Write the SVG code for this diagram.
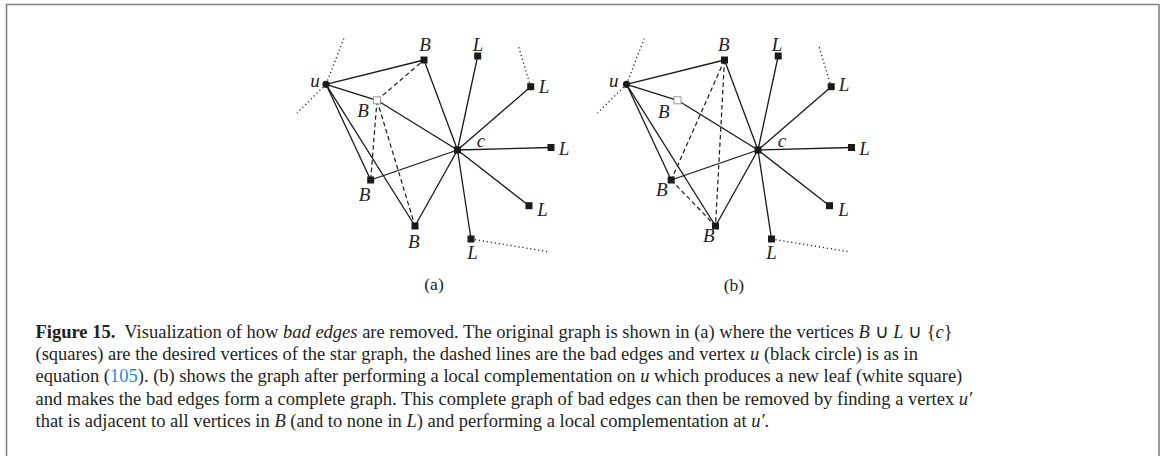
<svg xmlns="http://www.w3.org/2000/svg" width="1165" height="456" viewBox="0 0 1165 456">
<style>
.e{stroke:#1a1a1a;stroke-width:1.3;fill:none}
.d{stroke:#1a1a1a;stroke-width:1.2;fill:none;stroke-dasharray:4.5 3}
.o{stroke:#222;stroke-width:1.3;fill:none;stroke-dasharray:1.2 2.8}
.n{fill:#1a1a1a}
.w{fill:#fff;stroke:#999;stroke-width:1}
.m{font-family:"Liberation Serif",serif;font-style:italic;font-size:19px;fill:#222;text-anchor:middle}
.p{font-family:"Liberation Serif",serif;font-size:17.5px;fill:#222;text-anchor:middle}
.cap{font-family:"Liberation Serif",serif;font-size:18.5px;fill:#231f20}
.i{font-style:italic}
</style>
<rect width="1165" height="456" fill="#fff"/>
<path d="M6.5,456 V4.5 H1159 V456" fill="none" stroke="#808080" stroke-width="1.6"/>

<g id="connectors">
<g id="conn-a">
<line class="e" x1="326" y1="84.3" x2="424" y2="60"/>
<line class="e" x1="326" y1="84.3" x2="377" y2="100.3"/>
<line class="e" x1="326" y1="84.3" x2="370.7" y2="180"/>
<line class="e" x1="326" y1="84.3" x2="415" y2="226"/>
<line class="e" x1="377" y1="100.3" x2="457.5" y2="150"/>
<line class="e" x1="424" y1="60" x2="457.5" y2="150"/>
<line class="e" x1="370.7" y1="180" x2="457.5" y2="150"/>
<line class="e" x1="415" y1="226" x2="457.5" y2="150"/>
<line class="e" x1="457.5" y1="150" x2="477.7" y2="56"/>
<line class="e" x1="457.5" y1="150" x2="530.7" y2="86.7"/>
<line class="e" x1="457.5" y1="150" x2="551" y2="147.5"/>
<line class="e" x1="457.5" y1="150" x2="529" y2="205.7"/>
<line class="e" x1="457.5" y1="150" x2="471" y2="239"/>
<line class="d" x1="377" y1="100.3" x2="424" y2="60"/>
<line class="d" x1="377" y1="100.3" x2="370.7" y2="180"/>
<line class="d" x1="377" y1="100.3" x2="415" y2="226"/>
<line class="o" x1="326" y1="84.3" x2="344" y2="38"/>
<line class="o" x1="326" y1="84.3" x2="297" y2="113"/>
<line class="o" x1="530.7" y1="86.7" x2="518" y2="45"/>
<line class="o" x1="471" y1="239" x2="547" y2="251.5"/>
</g>
<g id="conn-b" transform="translate(300.5,0)">
<line class="e" x1="326" y1="84.3" x2="424" y2="60"/>
<line class="e" x1="326" y1="84.3" x2="377" y2="100.3"/>
<line class="e" x1="326" y1="84.3" x2="370.7" y2="180"/>
<line class="e" x1="326" y1="84.3" x2="415" y2="226"/>
<line class="e" x1="377" y1="100.3" x2="457.5" y2="150"/>
<line class="e" x1="424" y1="60" x2="457.5" y2="150"/>
<line class="e" x1="370.7" y1="180" x2="457.5" y2="150"/>
<line class="e" x1="415" y1="226" x2="457.5" y2="150"/>
<line class="e" x1="457.5" y1="150" x2="477.7" y2="56"/>
<line class="e" x1="457.5" y1="150" x2="530.7" y2="86.7"/>
<line class="e" x1="457.5" y1="150" x2="551" y2="147.5"/>
<line class="e" x1="457.5" y1="150" x2="529" y2="205.7"/>
<line class="e" x1="457.5" y1="150" x2="471" y2="239"/>
<line class="d" x1="424" y1="60" x2="370.7" y2="180"/>
<line class="d" x1="424" y1="60" x2="415" y2="226"/>
<line class="d" x1="370.7" y1="180" x2="415" y2="226"/>
<line class="o" x1="326" y1="84.3" x2="344" y2="38"/>
<line class="o" x1="326" y1="84.3" x2="297" y2="113"/>
<line class="o" x1="530.7" y1="86.7" x2="518" y2="45"/>
<line class="o" x1="471" y1="239" x2="547" y2="251.5"/>
</g>
</g>

<g id="graph-a">
<g id="a-u"><circle class="n" cx="326" cy="84.3" r="3.6"/><text class="m" x="315" y="87">u</text></g>
<g id="a-Bt"><rect class="n" x="420.5" y="56.5" width="7" height="7"/><text class="m" x="425" y="50.7">B</text></g>
<g id="a-Bw"><rect class="w" x="373.5" y="96.8" width="7" height="7"/><text class="m" x="363" y="117">B</text></g>
<g id="a-c"><rect class="n" x="454" y="146.5" width="7" height="7"/><text class="m" x="481" y="147">c</text></g>
<g id="a-Bl"><rect class="n" x="367.2" y="176.5" width="7" height="7"/><text class="m" x="364.5" y="201">B</text></g>
<g id="a-Bb"><rect class="n" x="411.5" y="222.5" width="7" height="7"/><text class="m" x="413.7" y="248">B</text></g>
<g id="a-L1"><rect class="n" x="474.2" y="52.5" width="7" height="7"/><text class="m" x="478" y="50.5">L</text></g>
<g id="a-L2"><rect class="n" x="527.2" y="83.2" width="7" height="7"/><text class="m" x="544" y="93">L</text></g>
<g id="a-L3"><rect class="n" x="547.5" y="144" width="7" height="7"/><text class="m" x="564" y="155">L</text></g>
<g id="a-L4"><rect class="n" x="525.5" y="202.2" width="7" height="7"/><text class="m" x="542.5" y="215.5">L</text></g>
<g id="a-L5"><rect class="n" x="467.5" y="235.5" width="7" height="7"/><text class="m" x="472.5" y="259">L</text></g>
<text class="p" x="434" y="290">(a)</text>
</g>

<g id="graph-b">
<g id="b-u"><circle class="n" cx="626.5" cy="84.3" r="3.6"/><text class="m" x="613.7" y="86.5">u</text></g>
<g id="b-Bt"><rect class="n" x="721" y="56.5" width="7" height="7"/><text class="m" x="723.7" y="50.7">B</text></g>
<g id="b-Bw"><rect class="w" x="674" y="96.8" width="7" height="7"/><text class="m" x="663.7" y="118">B</text></g>
<g id="b-c"><rect class="n" x="754.5" y="146.5" width="7" height="7"/><text class="m" x="782" y="147">c</text></g>
<g id="b-Bl"><rect class="n" x="667.7" y="176.5" width="7" height="7"/><text class="m" x="661.7" y="196">B</text></g>
<g id="b-Bb"><rect class="n" x="712" y="222.5" width="7" height="7"/><text class="m" x="708.7" y="242">B</text></g>
<g id="b-L1"><rect class="n" x="774.7" y="52.5" width="7" height="7"/><text class="m" x="777" y="50.5">L</text></g>
<g id="b-L2"><rect class="n" x="827.7" y="83.2" width="7" height="7"/><text class="m" x="844" y="91">L</text></g>
<g id="b-L3"><rect class="n" x="848" y="144" width="7" height="7"/><text class="m" x="864.5" y="155">L</text></g>
<g id="b-L4"><rect class="n" x="826" y="202.2" width="7" height="7"/><text class="m" x="843.5" y="215.5">L</text></g>
<g id="b-L5"><rect class="n" x="768" y="235.5" width="7" height="7"/><text class="m" x="771.5" y="258.5">L</text></g>
<text class="p" x="734" y="291">(b)</text>
</g>

<g id="caption" class="cap">
<text x="35.5" y="337.5"><tspan font-weight="bold">Figure 15.</tspan><tspan dx="9">Visualization of how </tspan><tspan class="i">bad edges</tspan> are removed. The original graph is shown in (a) where the vertices <tspan class="i">B</tspan> ∪ <tspan class="i">L</tspan> ∪ {<tspan class="i">c</tspan>}</text>
<text x="35.5" y="360">(squares) are the desired vertices of the star graph, the dashed lines are the bad edges and vertex <tspan class="i">u</tspan> (black circle) is as in</text>
<text x="35.5" y="382.3">equation (<tspan fill="#1e8fd5">105</tspan>). (b) shows the graph after performing a local complementation on <tspan class="i">u</tspan> which produces a new leaf (white square)</text>
<text x="35.5" y="404.6">and makes the bad edges form a complete graph. This complete graph of bad edges can then be removed by finding a vertex <tspan class="i">u′</tspan></text>
<text x="35.5" y="427">that is adjacent to all vertices in <tspan class="i">B</tspan> (and to none in <tspan class="i">L</tspan>) and performing a local complementation at <tspan class="i">u′</tspan>.</text>
</g>
</svg>
